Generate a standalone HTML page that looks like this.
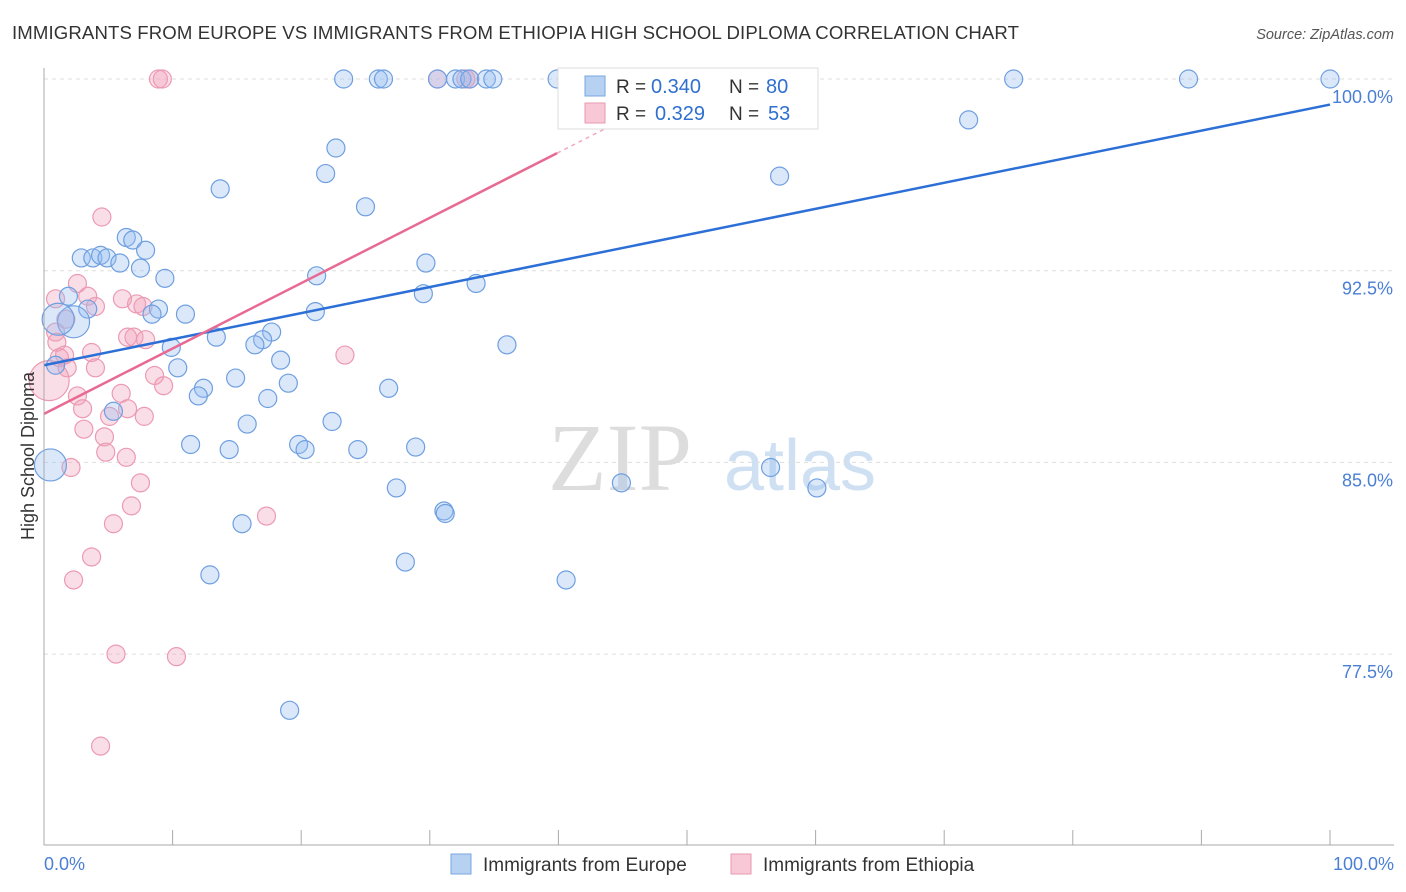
<!DOCTYPE html>
<html><head><meta charset="utf-8"><style>
body{margin:0;background:#fff;font-family:"Liberation Sans",sans-serif;}
svg{display:block}
</style></head><body>
<svg id="chart" width="1406" height="892">
<text x="12" y="39" font-size="18.6" fill="#333" textLength="1007">IMMIGRANTS FROM EUROPE VS IMMIGRANTS FROM ETHIOPIA HIGH SCHOOL DIPLOMA CORRELATION CHART</text>
<text x="1394" y="39" font-size="14.5" fill="#555" font-style="italic" text-anchor="end">Source: ZipAtlas.com</text>
<text x="620" y="490" font-size="96" fill="#ddd" font-family="Liberation Serif,serif" text-anchor="middle">ZIP</text>
<text x="800" y="490" font-size="72" fill="#cfe0f3" text-anchor="middle">atlas</text>
<g id="grid"></g><g id="pts"></g><g id="lines"></g>
<line x1="44" y1="68" x2="44" y2="845" stroke="#aaa"/>
<line x1="44" y1="845" x2="1394" y2="845" stroke="#aaa"/>
<text transform="translate(34,456) rotate(-90)" font-size="18" fill="#333" text-anchor="middle">High School Diploma</text>
<text x="44" y="870" font-size="18" fill="#4a7fd4">0.0%</text>
<text x="1394" y="870" font-size="18" fill="#4a7fd4" text-anchor="end">100.0%</text>
<g>
<rect x="558" y="68" width="260" height="61" fill="#fff" stroke="#ddd"/>
<rect x="585" y="76" width="20" height="20" fill="#b7d1f3" stroke="#7aa7e0"/>
<rect x="585" y="103" width="20" height="20" fill="#f8c8d6" stroke="#e99ab2"/>
<text x="616" y="93" font-size="19" fill="#333">R =</text>
<text x="651" y="93" font-size="20" fill="#2f6fd0">0.340</text>
<text x="729" y="93" font-size="19" fill="#333">N =</text>
<text x="766" y="93" font-size="20" fill="#2f6fd0">80</text>
<text x="616" y="120" font-size="19" fill="#333">R =</text>
<text x="655" y="120" font-size="20" fill="#2f6fd0">0.329</text>
<text x="729" y="120" font-size="19" fill="#333">N =</text>
<text x="768" y="120" font-size="20" fill="#2f6fd0">53</text>
</g>
<g>
<rect x="451" y="854" width="20" height="20" fill="#b7d1f3" stroke="#7aa7e0"/>
<text x="483" y="871" font-size="19" fill="#333">Immigrants from Europe</text>
<rect x="731" y="854" width="20" height="20" fill="#f8c8d6" stroke="#e99ab2"/>
<text x="763" y="871" font-size="19" fill="#333">Immigrants from Ethiopia</text>
</g>
</svg>
<script>
const yTicks=[100,92.5,85,77.5];
const yTickLabels=["100.0%","92.5%","85.0%","77.5%"];
const xTicks=[0,10,20,30,40,50,60,70,80,90,100];
const europeX=[23.3,26.0,26.4,30.6,32.0,32.5,33.1,34.4,34.9,39.9,47.7,54.8,75.4,89.0,100,71.9,22.7,13.7,21.9,57.2,25.0,6.4,6.9,7.9,2.9,3.8,4.4,4.9,5.9,7.5,29.7,21.2,9.4,33.6,29.5,1.9,3.4,8.9,8.4,11.0,21.1,2.3,1.1,17.7,13.4,17.0,16.4,9.9,36.0,18.4,10.4,0.9,14.9,19.0,12.4,12.0,26.8,17.4,5.4,22.4,15.8,11.4,14.4,19.8,20.3,24.4,28.9,56.5,0.5,27.4,44.9,60.1,31.1,31.2,15.4,28.1,12.9,40.6,19.1];
const europeY=[100,100,100,100,100,100,100,100,100,100,100,100,100,100,100,98.4,97.3,95.7,96.3,96.2,95.0,93.8,93.7,93.3,93.0,93.0,93.1,93.0,92.8,92.6,92.8,92.3,92.2,92.0,91.6,91.5,91.0,91.0,90.8,90.8,90.9,90.5,90.6,90.1,89.9,89.8,89.6,89.5,89.6,89.0,88.7,88.8,88.3,88.1,87.9,87.6,87.9,87.5,87.0,86.6,86.5,85.7,85.5,85.7,85.5,85.5,85.6,84.8,84.9,84.0,84.2,84.0,83.1,83.0,82.6,81.1,80.6,80.4,75.3];
const europeBig=[68,41,42];
const ethX=[8.9,9.2,30.6,32.8,33.1,4.5,2.6,0.9,3.4,4.0,6.1,7.2,7.7,1.7,0.9,6.5,7.0,7.9,1.0,1.6,1.2,3.7,1.8,4.0,23.4,0.4,8.6,9.3,6.0,2.6,3.0,6.5,5.1,7.8,3.1,4.7,4.8,6.4,2.1,7.5,6.8,5.4,17.3,3.7,2.3,5.6,10.3,4.4];
const ethY=[100,100,100,100,100,94.6,92.0,91.4,91.5,91.1,91.4,91.2,91.1,90.6,90.1,89.9,89.9,89.8,89.7,89.2,89.1,89.3,88.7,88.7,89.2,88.2,88.4,88.0,87.7,87.6,87.1,87.1,86.8,86.8,86.3,86.0,85.4,85.2,84.8,84.2,83.3,82.6,82.9,81.3,80.4,77.5,77.4,73.9];
const ethBig=[25];
const europeTrend=[88.8,99.0];
const ethTrend=[86.9,97.1];
const X=v=>44+v*12.86, Y=v=>79+(100-v)*25.56;
const NS="http://www.w3.org/2000/svg";
function mk(tag,at,parent){const e=document.createElementNS(NS,tag);for(const k in at)e.setAttribute(k,at[k]);document.getElementById(parent).appendChild(e);return e;}
yTicks.forEach((t,i)=>{
 const l=mk('line',{x1:44,x2:1394,y1:Y(t),y2:Y(t),stroke:'#ddd','stroke-dasharray':'4,4'},'grid');
 
 
 const tx=mk('text',{x:1393,y:Y(t)+24,'font-size':18,fill:'#4a7fd4','text-anchor':'end'},'grid');
 tx.textContent=yTickLabels[i];
 
 
});
xTicks.forEach(t=>{
 const l=mk('line',{x1:X(t),x2:X(t),y1:830,y2:845,stroke:'#aaa'},'grid');
 
 
});
ethX.forEach((x,i)=>{
 const c=mk('circle',{cx:X(x),cy:Y(ethY[i]),r:ethBig.includes(i)?20:9,fill:'rgba(242,160,185,0.35)',stroke:'#ec9ab3','stroke-width':1.2},'pts');
 
 
});
europeX.forEach((x,i)=>{
 const c=mk('circle',{cx:X(x),cy:Y(europeY[i]),r:europeBig.includes(i)?16:9,fill:'rgba(150,190,240,0.35)',stroke:'#6f9fe0','stroke-width':1.2},'pts');
 
 
});
let l1=mk('line',{x1:X(0),y1:Y(europeTrend[0]),x2:X(100),y2:Y(europeTrend[1]),stroke:'#2c6fd6','stroke-width':2.5},'lines');


let l2=mk('line',{x1:X(0),y1:Y(ethTrend[0]),x2:X(39.9),y2:Y(ethTrend[1]),stroke:'#e86a93','stroke-width':2.5},'lines');


const s=(ethTrend[1]-ethTrend[0])/39.9;
let l3=mk('line',{x1:X(39.9),y1:Y(ethTrend[1]),x2:X(44),y2:Y(ethTrend[0]+s*44),stroke:'#f0a8c0','stroke-width':1.5,'stroke-dasharray':'4,4'},'lines');


</script>
</body></html>
